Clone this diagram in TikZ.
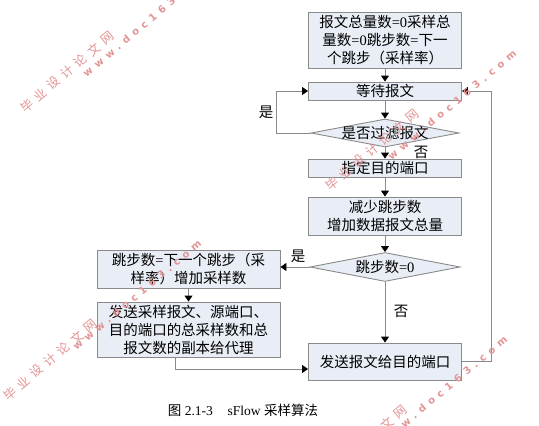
\documentclass[tikz,border=0pt]{standalone}
\usepackage{fontspec}
\setmainfont{Liberation Serif}
\newfontfamily\cjk{Noto Sans CJK SC}
\newfontfamily\wmcjk[LetterSpace=40]{Noto Sans CJK SC}
\newfontfamily\wmlat[LetterSpace=50]{DejaVu Sans}
\usetikzlibrary{arrows.meta,shapes.geometric}
\definecolor{boxfill}{HTML}{E8EDF6}
\definecolor{boxline}{HTML}{8A8A8A}
\definecolor{wm}{HTML}{E39494}
\begin{document}
\begin{tikzpicture}[x=1pt,y=-1pt,
  box/.style={draw=boxline, fill=boxfill, line width=0.9pt, inner sep=0pt, align=center,
    font=\cjk\fontsize{14.5}{18}\selectfont, minimum width=153pt},
  dia/.style={diamond, draw=boxline, fill=boxfill, line width=0.9pt, inner sep=0pt,
    minimum width=148pt, minimum height=28pt},
  txt/.style={font=\cjk\fontsize{14.5}{18}\selectfont, inner sep=0pt},
  arr/.style={draw=boxline, line width=0.9pt, -{Triangle[width=8pt,length=6pt,color=black]}},
  wmk/.style={text=wm, rotate=40, inner sep=0pt},
  wmc/.style={wmk, font=\wmcjk\fontsize{12.5}{12.5}\selectfont},
  wml/.style={wmk, font=\wmlat\bfseries\fontsize{10}{10}\selectfont}
]
\fill[white] (0,0) rectangle (539,426);
\useasboundingbox (0,0) rectangle (539,426);

% main column
\node[box, minimum height=56pt] (b1) at (385,40) {报文总量数{\rmfamily =0}采样总\\量数{\rmfamily =0}跳步数{\rmfamily =}下一\\个跳步（采样率）};
\node[box, minimum height=18pt] (b2) at (385,91) {等待报文};
\node[dia] (d1) at (385,133) {};
\node[txt] (d1t) at (d1) {是否过滤报文};
\node[box, minimum height=18pt] (b3) at (385,168) {指定目的端口};
\node[box, minimum height=38pt] (b4) at (385,216) {减少跳步数\\增加数据报文总量};
\node[dia, minimum width=150pt, minimum height=29pt] (d2) at (385,267) {};
\node[txt] (d2t) at (d2) {跳步数{\rmfamily =0}};
\node[box, minimum height=37pt] (b5) at (385,361.5) {发送报文给目的端口};

% left column
\node[box, minimum width=183pt, minimum height=38pt] (l1) at (188.5,269) {跳步数{\rmfamily =}下一个跳步（采\\样率）增加采样数};
\node[box, minimum width=183pt, minimum height=55pt] (l2) at (188.5,329.5) {发送采样报文、源端口、\\目的端口的总采样数和总\\报文数的副本给代理};

% labels
\node[txt] (yes1) at (266,112) {是};
\node[txt] (no1) at (421,152) {否};
\node[txt] (yes2) at (298,256) {是};
\node[txt] (no2) at (401,311) {否};

% connectors
\draw[arr] (b1.south) -- (b2.north);
\draw[arr] (b2.south) -- (d1.north);
\draw[arr] (d1.south) -- (b3.north);
\draw[arr] (b3.south) -- (b4.north);
\draw[arr] (b4.south) -- (d2.north);
\draw[arr] (d2.south) -- (b5.north);
\draw[arr] (d1.west) -- ++(-34,0) |- (b2.west);
\draw[arr] (b5.east) -- ++(29,0) |- (b2.east);
\draw[arr] (d2.west) -- (d2.west -| l1.east);
\draw[arr] (l1.south) -- (l2.north);
\draw[arr] ([xshift=-13.5pt]l2.south) |- ([yshift=-7.5pt]b5.west);

% caption
\node[inner sep=0pt, font=\fontsize{13.5}{16}\selectfont] (cap) at (243,410) {{\cjk 图} 2.1-3\hspace{1.1em}sFlow {\cjk 采样算法}};

% watermarks
\node[wmc] (wa1) at (67,72) {毕业设计论文网};
\node[wml] (wa2) at (147,22) {www.doc163.com};
\node[wmc] (wb1) at (372,150) {毕业设计论文网};
\node[wml] (wb2) at (452,105) {www.doc163.com};
\node[wmc] (wc1) at (50,360) {毕业设计论文网};
\node[wml] (wc2) at (137,295) {www.doc163.com};
\node[wmc] (wd1) at (360,446) {毕业设计论文网};
\node[wml] (wd2) at (443,391) {www.doc163.com};
\end{tikzpicture}
\end{document}
